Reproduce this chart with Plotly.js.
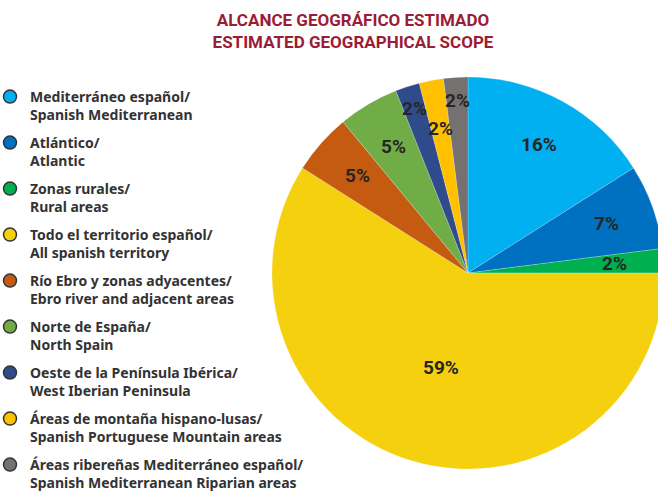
<!DOCTYPE html>
<html>
<head>
<meta charset="utf-8">
<script src="https://cdn.plot.ly/plotly-3.0.1.min.js"></script>
<style>
html, body { margin: 0; padding: 0; overflow: hidden; background: #fff; }
#chart { width: 670px; height: 491px; }
</style>
</head>
<body>
<div id="chart"></div>
<script>
// Data
const labelsEs = [
  "Mediterráneo español/",
  "Atlántico/",
  "Zonas rurales/",
  "Todo el territorio español/",
  "Río Ebro y zonas adyacentes/",
  "Norte de España/",
  "Oeste de la Península Ibérica/",
  "Áreas de montaña hispano-lusas/",
  "Áreas ribereñas Mediterráneo español/"
];
const labelsEn = [
  "Spanish Mediterranean",
  "Atlantic",
  "Rural areas",
  "All spanish territory",
  "Ebro river and adjacent areas",
  "North Spain",
  "West Iberian Peninsula",
  "Spanish Portuguese Mountain areas",
  "Spanish Mediterranean Riparian areas"
];
const percentages = [16, 7, 2, 59, 5, 5, 2, 2, 2];
const sliceColors = ["#00B0F0", "#0070C0", "#00B050", "#F5D00F", "#C55A11", "#70AD47", "#2F4B8C", "#FFC000", "#767171"];

const W = 670, H = 491;
const CX = 468, CY = 273, R = 196;   // pie centre / radius in pixels
const ROBOTO = 'Roboto, "Liberation Sans", sans-serif';
const NOTO = '"Noto Sans", Roboto, sans-serif';
const names = labelsEs.map((s, i) => s + "<br>" + labelsEn[i]);

const traces = [{
  type: "pie",
  labels: names,
  values: percentages,
  sort: false,
  direction: "clockwise",
  rotation: 0,
  marker: { colors: sliceColors, line: { color: "rgba(255,255,255,0.4)", width: 0.5 } },
  textinfo: "none",
  hovertemplate: "%{label}: %{value}%<extra></extra>",
  showlegend: false,
  domain: { x: [(CX - R) / W, (CX + R) / W], y: [(H - CY - R) / H, (H - CY + R) / H] }
}];

names.forEach((n, i) => {
  traces.push({
    type: "scatter",
    mode: "markers",
    x: [null], y: [null],
    name: n,
    legendgroup: "g" + i,
    marker: { symbol: "circle", size: 13, color: sliceColors[i], line: { color: "#333333", width: 1.5 } },
    hoverinfo: "skip",
    showlegend: true
  });
});

// percentage labels placed on each slice's bisector (computed from the values)
const total = percentages.reduce((a, b) => a + b, 0);
const annotations = [];
let cum = 0;
percentages.forEach((v, i) => {
  const mid = (cum + v / 2) / total * 2 * Math.PI;
  cum += v;
  const small = v / total < 0.03;
  const prevSmall = i > 0 && percentages[i - 1] / total < 0.03;
  const nextSmall = i < percentages.length - 1 && percentages[i + 1] / total < 0.03;
  let f = 0.75;
  if (v / total > 0.5) f = 0.5;
  else if (small && (prevSmall || nextSmall)) {
    // stagger labels of adjacent thin slices
    let k = 0, j = i;
    while (j > 0 && percentages[j - 1] / total < 0.03) { k++; j--; }
    f = (k % 2 === 0) ? 0.88 : 0.75;
  }
  const px = CX + f * R * Math.sin(mid);
  const py = CY - f * R * Math.cos(mid);
  annotations.push({
    xref: "paper", yref: "paper",
    x: px / W, y: 1 - py / H,
    xanchor: "center", yanchor: "middle",
    text: v + "%", showarrow: false,
    font: { family: ROBOTO, size: 19, color: "#262626", weight: "bold" }
  });
});

const layout = {
  width: W, height: H,
  margin: { l: 0, r: 0, t: 0, b: 0, autoexpand: false },
  paper_bgcolor: "#ffffff",
  plot_bgcolor: "rgba(0,0,0,0)",
  xaxis: { visible: false, range: [0, 1] },
  yaxis: { visible: false, range: [0, 1] },
  title: {
    text: "ALCANCE GEOGRÁFICO ESTIMADO<br>ESTIMATED GEOGRAPHICAL SCOPE",
    x: 353 / W, xanchor: "center",
    y: 1 - 26 / H, yanchor: "top",
    font: { family: ROBOTO, size: 17, color: "#9B1C35", weight: "bold" }
  },
  annotations: annotations,
  showlegend: true,
  legend: {
    x: -10 / W, xanchor: "left",
    y: 1 - 81 / H, yanchor: "top",
    valign: "top",
    traceorder: "grouped",
    tracegroupgap: 6.6,
    bgcolor: "rgba(0,0,0,0)",
    font: { family: NOTO, size: 14, color: "#333333", weight: "bold" },
    itemclick: false, itemdoubleclick: false
  }
};

Plotly.newPlot("chart", traces, layout, { displayModeBar: false, staticPlot: true });
</script>
</body>
</html>
